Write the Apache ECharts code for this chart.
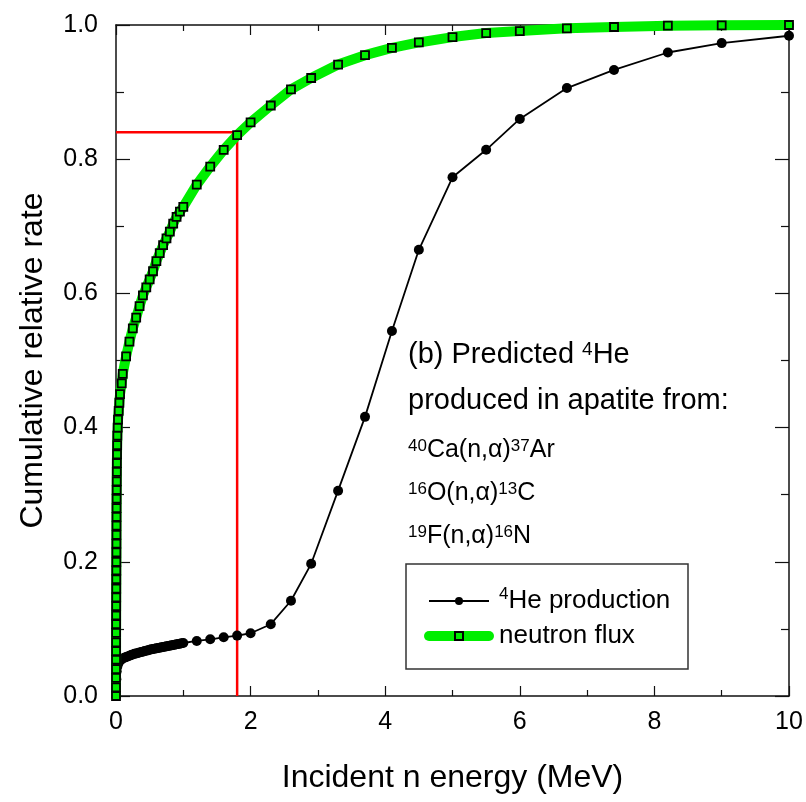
<!DOCTYPE html>
<html>
<head>
<meta charset="utf-8">
<script src="https://cdn.jsdelivr.net/npm/echarts@6/dist/echarts.min.js"></script>
<style>
  html, body { margin: 0; padding: 0; background: #fff; }
  #chart { width: 806px; height: 802px; }
</style>
</head>
<body>
<div id="chart"></div>
<script>
// 4He production (cumulative)
const heX = [0, 0.005, 0.01, 0.02, 0.03, 0.04, 0.05, 0.075, 0.1, 0.125, 0.15, 0.175, 0.2, 0.225, 0.25,
  0.275, 0.3, 0.325, 0.35, 0.375, 0.4, 0.425, 0.45, 0.475, 0.5, 0.525, 0.55, 0.575, 0.6, 0.625, 0.65,
  0.675, 0.7, 0.725, 0.75, 0.775, 0.8, 0.825, 0.85, 0.875, 0.9, 0.925, 0.95, 0.975, 1.0,
  1.2, 1.4, 1.6, 1.8, 2.0, 2.3, 2.6, 2.9, 3.3, 3.7, 4.1, 4.5, 5.0, 5.5, 6.0, 6.7, 7.4, 8.2, 9.0, 10]
const heY = [0.0, 0.025, 0.037, 0.044, 0.048, 0.050, 0.052, 0.054, 0.056, 0.057, 0.058, 0.059, 0.060, 0.061, 0.062,
  0.063, 0.0635, 0.064, 0.065, 0.0655, 0.066, 0.067, 0.0675, 0.068, 0.069, 0.0695, 0.070, 0.0705, 0.071, 0.0715, 0.072,
  0.0725, 0.073, 0.0735, 0.074, 0.0745, 0.075, 0.0755, 0.076, 0.0765, 0.077, 0.0775, 0.078, 0.0785, 0.079,
  0.082, 0.0845, 0.0875, 0.090, 0.0935, 0.107, 0.142, 0.197, 0.306, 0.416, 0.544, 0.665, 0.773, 0.814, 0.86, 0.906, 0.933, 0.959, 0.973, 0.984]

// neutron flux (cumulative)
const fluxX = [0, 0.0002, 0.0004, 0.0006, 0.0008, 0.001, 0.0012, 0.0015, 0.0018, 0.002, 0.0025, 0.003, 0.0035,
  0.004, 0.0045, 0.005, 0.0055, 0.006, 0.0065, 0.007, 0.0075, 0.008, 0.009, 0.01, 0.011, 0.012, 0.013, 0.015,
  0.017, 0.02, 0.025, 0.03, 0.04, 0.05, 0.06, 0.085,
  0.1, 0.15, 0.2, 0.25, 0.3, 0.35, 0.4, 0.45, 0.5, 0.55, 0.6, 0.65, 0.7, 0.75, 0.8, 0.85, 0.9, 0.95, 1.0,
  1.2, 1.4, 1.6, 1.8, 2.0, 2.3, 2.6, 2.9, 3.3, 3.7, 4.1, 4.5, 5.0, 5.5, 6.0, 6.7, 7.4, 8.2, 9.0, 10]
const fluxY = [0.0, 0.013, 0.027, 0.040, 0.054, 0.067, 0.080, 0.094, 0.107, 0.120, 0.134, 0.147, 0.160,
  0.174, 0.187, 0.200, 0.214, 0.227, 0.240, 0.254, 0.267, 0.280, 0.294, 0.307, 0.320, 0.334, 0.347, 0.360,
  0.374, 0.388, 0.400, 0.412, 0.425, 0.437, 0.450, 0.466,
  0.480, 0.506, 0.528, 0.548, 0.564, 0.581, 0.597, 0.609, 0.621, 0.633, 0.648, 0.660, 0.672, 0.682, 0.692, 0.704, 0.714, 0.722, 0.729,
  0.762, 0.789, 0.814, 0.836, 0.855, 0.880, 0.904, 0.921, 0.941, 0.955, 0.966, 0.974, 0.982, 0.988, 0.991, 0.995, 0.997, 0.999, 0.9995, 1.0]

// red guide lines (84% of flux below 1.8 MeV)
const refX = [0, 1.8, 1.8]
const refY = [0.84, 0.84, 0]

const xTicks = [0, 2, 4, 6, 8, 10]

const FONT = 'Liberation Sans, Arial, sans-serif'
const GREEN = '#00ee00'
const zip = (xs, ys) => xs.map((x, i) => [x, ys[i]])

const chart = echarts.init(document.getElementById('chart'))

const axisCommon = {
  type: 'value',
  axisLine: { show: true, onZero: false, lineStyle: { color: '#111', width: 1.5 } },
  splitLine: { show: false },
  minorTick: { show: true, splitNumber: 2, length: 6, lineStyle: { color: '#111', width: 1.2 } },
  axisTick: { show: true, inside: true, length: 10, lineStyle: { color: '#111', width: 1.2 } }
}
const yTick = { show: true, inside: true, length: 14, lineStyle: { color: '#111', width: 1.2 } }
const yMinor = { show: true, splitNumber: 2, length: 8, lineStyle: { color: '#111', width: 1.2 } }

const rich = {
  n: { fontSize: 29, fontFamily: FONT, color: '#000' },
  s: { fontSize: 19, fontFamily: FONT, color: '#000', verticalAlign: 'top' },
  m: { fontSize: 25, fontFamily: FONT, color: '#000' },
  ms: { fontSize: 17, fontFamily: FONT, color: '#000', verticalAlign: 'top' },
  l: { fontSize: 26, fontFamily: FONT, color: '#000' },
  lp: { fontSize: 26, fontFamily: FONT, color: '#000', padding: [0, 0, 0, 5] },
  ls: { fontSize: 17, fontFamily: FONT, color: '#000', verticalAlign: 'top', padding: [0, 0, 0, 5] }
}

const option = {
  animation: false,
  backgroundColor: '#fff',
  grid: { left: 116, right: 17, top: 25, bottom: 106 },
  xAxis: [
    Object.assign({}, axisCommon, {
      min: 0, max: 10, interval: 2, position: 'bottom',
      axisLabel: { fontSize: 25, fontFamily: FONT, color: '#000', margin: 14, customValues: xTicks },
      name: 'Incident n energy (MeV)', nameLocation: 'middle', nameGap: 66,
      nameTextStyle: { fontSize: 32, fontFamily: FONT, color: '#000' }
    }),
    Object.assign({}, axisCommon, {
      min: 0, max: 10, interval: 2, position: 'top', axisLabel: { show: false }
    })
  ],
  yAxis: [
    Object.assign({}, axisCommon, {
      min: 0, max: 1, interval: 0.2, position: 'left',
      axisTick: yTick, minorTick: yMinor,
      axisLabel: { fontSize: 25, fontFamily: FONT, color: '#000', margin: 18, formatter: v => v.toFixed(1) },
      name: 'Cumulative relative rate', nameLocation: 'middle', nameGap: 67,
      nameTextStyle: { fontSize: 32, fontFamily: FONT, color: '#000' }
    }),
    Object.assign({}, axisCommon, {
      min: 0, max: 1, interval: 0.2, position: 'right',
      axisTick: yTick, minorTick: yMinor,
      axisLabel: { show: false }
    })
  ],
  legend: {
    orient: 'vertical',
    left: 424, top: 586, padding: 0,
    itemWidth: 60, itemHeight: 10, itemGap: 5,
    data: [
      { name: 'He', lineStyle: { width: 2 } },
      { name: 'flux', lineStyle: { width: 10, cap: 'round' } }
    ],
    formatter: name => name === 'He' ? '{ls|4}{l|He production}' : '{lp|neutron flux}',
    textStyle: { fontSize: 26, fontFamily: FONT, color: '#000', lineHeight: 30, rich: rich }
  },
  graphic: [
    {
      type: 'rect', shape: { x: 406, y: 564, width: 282, height: 105 },
      style: { fill: 'none', stroke: '#333', lineWidth: 1.5 }, z: 1
    },
    {
      type: 'text', left: 408, top: 340,
      style: { text: '{n|(b) Predicted }{s|4}{n|He}', rich: rich }
    },
    {
      type: 'text', left: 408, top: 386,
      style: { text: '{n|produced in apatite from:}', rich: rich }
    },
    {
      type: 'text', left: 408, top: 438,
      style: { text: '{ms|40}{m|Ca(n,α)}{ms|37}{m|Ar}', rich: rich }
    },
    {
      type: 'text', left: 408, top: 481,
      style: { text: '{ms|16}{m|O(n,α)}{ms|13}{m|C}', rich: rich }
    },
    {
      type: 'text', left: 408, top: 524,
      style: { text: '{ms|19}{m|F(n,α)}{ms|16}{m|N}', rich: rich }
    }
  ],
  series: [
    {
      name: 'ref', type: 'line', data: zip(refX, refY),
      symbol: 'none', lineStyle: { color: '#ff0000', width: 2.5 }, z: 2, silent: true
    },
    {
      name: 'He', type: 'line', data: zip(heX, heY),
      symbol: 'circle', symbolSize: 10,
      itemStyle: { color: '#000' },
      lineStyle: { color: '#000', width: 1.8 }, z: 3, clip: false
    },
    {
      name: 'flux', type: 'line', data: zip(fluxX, fluxY),
      symbol: 'rect', symbolSize: 8,
      itemStyle: { color: GREEN, borderColor: '#000', borderWidth: 1.8 },
      lineStyle: { color: GREEN, width: 10, cap: 'round', join: 'round' }, z: 4, clip: false
    }
  ]
}

chart.setOption(option)
</script>
</body>
</html>
